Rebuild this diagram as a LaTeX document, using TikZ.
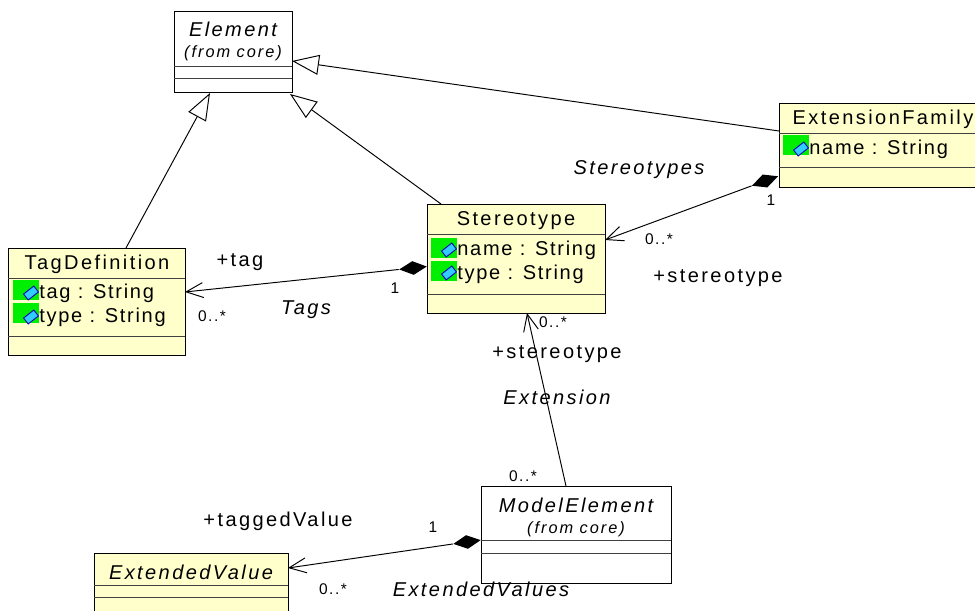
\documentclass[tikz,border=0pt]{standalone}
\usepackage{fontspec}
\setmainfont{Liberation Sans}
\usetikzlibrary{positioning, arrows.meta, shapes.geometric}
\newcommand{\spaced}{\addfontfeature{LetterSpace=12}}

\begin{document}
\begin{tikzpicture}[
    x=0.02cm, y=-0.02cm,
    % Class box style
    classbox/.style={
        rectangle,
        draw=black,
        fill=umlyellow,
        line width=0.5pt,
        anchor=north west,
        inner sep=0pt
    },
    % Text styles
    lbl/.style={
        font=\fontsize{11.4}{13}\selectfont\spaced,
        inner sep=0pt
    },
    attrtext/.style={
        font=\fontsize{11.4}{13}\selectfont\addfontfeature{LetterSpace=8.5},
        inner sep=0pt,
        anchor=west
    },
    ital/.style={
        font=\fontsize{11.4}{13}\selectfont\itshape\spaced,
        inner sep=0pt
    },
    small/.style={
        font=\fontsize{9.3}{11}\selectfont\itshape\spaced,
        inner sep=0pt
    },
    mult/.style={
        font=\fontsize{8.8}{10}\selectfont\addfontfeature{LetterSpace=10},
        inner sep=0pt
    },
    % Attribute icon
    attr/.style={
        rectangle,
        fill=attrgreen,
        minimum width=0.52cm,
        minimum height=0.4cm,
        inner sep=0pt,
        anchor=north west
    },
    icon/.style={
        rectangle,
        rotate=38,
        draw=blue!75!black,
        fill=iconcyan,
        line width=0.5pt,
        minimum width=0.26cm,
        minimum height=0.15cm,
        inner sep=0pt
    },
    % Composition diamond
    comp/.style={
        diamond,
        aspect=2,
        fill=black,
        minimum width=0.56cm,
        minimum height=0.28cm,
        inner sep=0pt
    },
    % Connector styles
    assoc/.style={
        -{Straight Barb[length=0.34cm, width=0.3cm, line width=0.55pt]},
        line width=0.55pt
    },
    inherit/.style={
        -{Triangle[open, length=0.54cm, width=0.4cm, line width=0.55pt, fill=white]},
        line width=0.55pt
    },
    sep/.style={line width=0.5pt, black!75}
]
\definecolor{umlyellow}{HTML}{FFFFCC}
\definecolor{attrgreen}{HTML}{00EE00}
\definecolor{iconcyan}{HTML}{33CCFF}

\useasboundingbox (0, 0) rectangle (975, 611);

% === Classes ===
\node[classbox, fill=white, minimum width=2.37cm, minimum height=1.63cm] (element) at (174, 11) {};
\draw[sep] (174, 66) -- (292, 66) (174, 78) -- (292, 78);
\node[ital] (elementname) at (233, 29) {Element};
\node[small] (elementcore) at (233, 53) {(from core)};

\node[classbox, minimum width=3.54cm, minimum height=2.15cm] (tagdef) at (8, 248) {};
\draw[sep] (8, 278) -- (185, 278) (8, 336) -- (185, 336);
\node[lbl] (tagdefname) at (97, 264) {TagDefinition};

\node[classbox, minimum width=3.56cm, minimum height=2.18cm] (stereotype) at (427, 204) {};
\draw[sep] (427, 234) -- (605, 234) (427, 294) -- (605, 294);
\node[lbl] (stereotypename) at (516, 221) {Stereotype};

\node[classbox, minimum width=4.1cm, minimum height=1.68cm] (family) at (779, 103) {};
\draw[sep] (779, 133) -- (985, 133) (779, 167) -- (985, 167);
\node[lbl] (familyname) at (883, 119) {ExtensionFamily};

\node[classbox, fill=white, minimum width=3.8cm, minimum height=1.94cm] (modelelement) at (481, 486) {};
\draw[sep] (481, 540) -- (671, 540) (481, 553) -- (671, 553);
\node[ital] (modelname) at (576, 505) {ModelElement};
\node[small] (modelcore) at (576, 529) {(from core)};

\node[classbox, minimum width=3.88cm, minimum height=1.4cm] (extvalue) at (94, 553) {};
\draw[sep] (94, 585) -- (288, 585) (94, 597) -- (288, 597);
\node[ital] (extvaluename) at (191, 572) {ExtendedValue};

% === Attributes ===
\node[attr] (tagbox) at (13, 280) {};
\node[attr] (typebox) at (13, 303) {};
\node[icon] (tagicon) at (31, 293) {};
\node[icon] (typeicon) at (31, 317) {};
\node[attrtext] (tagattr) at (39, 293) {tag : String};
\node[attrtext] (typeattr) at (39, 317) {type : String};

\node[attr] (namebox) at (431, 238) {};
\node[attr] (sttypebox) at (431, 261) {};
\node[icon] (nameicon) at (449, 250) {};
\node[icon] (sttypeicon) at (449, 273) {};
\node[attrtext] (nameattr) at (457, 250) {name : String};
\node[attrtext] (sttypeattr) at (457, 274) {type : String};

\node[attr] (fambox) at (783, 135) {};
\node[icon] (famicon) at (801, 149) {};
\node[attrtext] (famattr) at (809, 149) {name : String};

% === Composition diamonds ===
\node[comp, rotate=20] (famdia) at (765, 181) {};
\node[comp, rotate=6] (stdia) at (413, 268) {};
\node[comp, rotate=8] (modeldia) at (467, 542) {};

% === Connector ends ===
\coordinate (famtip) at (605, 240);
\coordinate (tagtip) at (185, 292);
\coordinate (stereotip) at (527, 313);
\coordinate (valuetip) at (288, 568);
\coordinate (modeltop) at (566, 486);
\coordinate (stereotop) at (441, 204);
\coordinate (tagdeftop) at (126, 248);
\coordinate (familyside) at (779, 131);
\coordinate (up1) at (210, 93);
\coordinate (up2) at (290, 94);
\coordinate (up3) at (292, 61);

% === Arrows ===
\draw[assoc] (famdia.west) -- (famtip);
\draw[assoc] (stdia.west) -- (tagtip);
\draw[assoc] (modeltop) -- (stereotip);
\draw[assoc] (modeldia.west) -- (valuetip);
\draw[inherit] (tagdeftop) -- (up1);
\draw[inherit] (stereotop) -- (up2);
\draw[inherit] (familyside) -- (up3);

% === Labels ===
\node[ital] (stereotypes) at (639, 170) {Stereotypes};
\node[ital] (tags) at (306, 310) {Tags};
\node[ital] (extension) at (557, 397) {Extension};
\node[ital] (extvalues) at (481, 589) {ExtendedValues};
\node[lbl] (plustag) at (240, 262) {+tag};
\node[lbl] (plusst1) at (718, 278) {+stereotype};
\node[lbl] (plusst2) at (557, 354) {+stereotype};
\node[lbl] (plusvalue) at (278, 521) {+taggedValue};
\node[mult] (one1) at (771, 200) {1};
\node[mult] (one2) at (395, 288) {1};
\node[mult] (one3) at (433, 527) {1};
\node[mult] (many1) at (659, 239) {0..*};
\node[mult] (many2) at (212, 316) {0..*};
\node[mult] (many3) at (553, 322) {0..*};
\node[mult] (many4) at (523, 476) {0..*};
\node[mult] (many5) at (333, 589) {0..*};

\end{tikzpicture}
\end{document}
